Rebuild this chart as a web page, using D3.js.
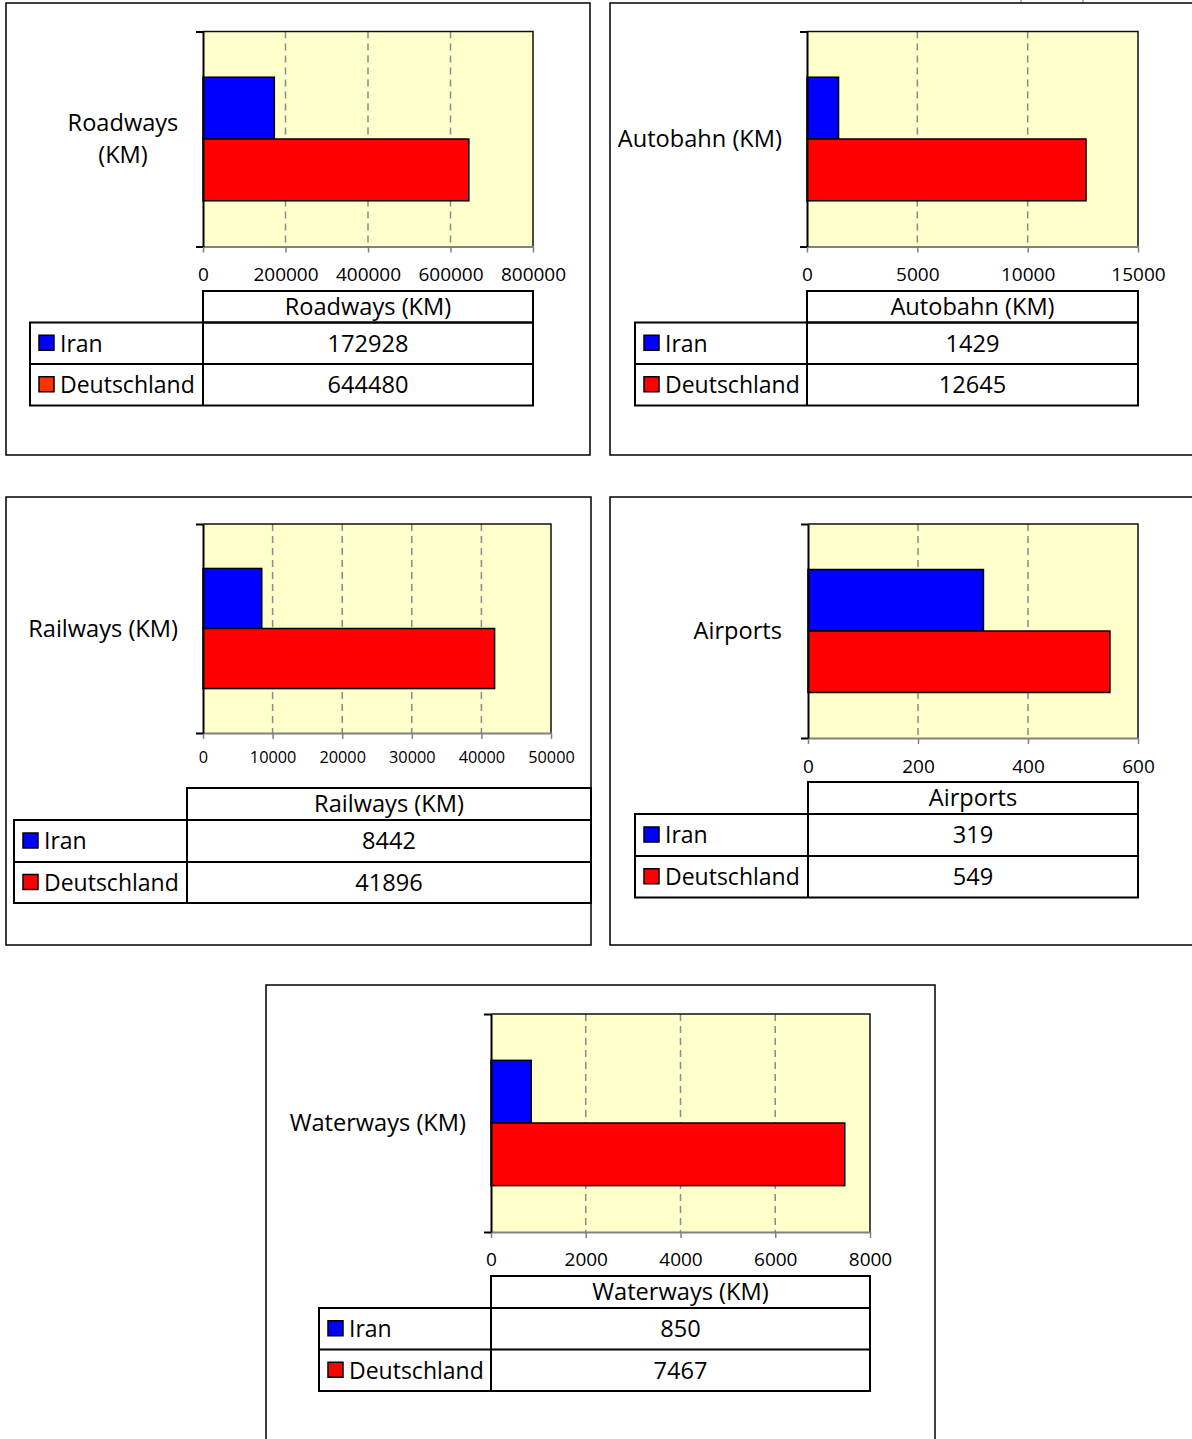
<!DOCTYPE html>
<html>
<head>
<meta charset="utf-8">
<script src="https://cdn.jsdelivr.net/npm/d3@7"></script>
<style>
  body { margin: 0; background: #fff; }
  svg { display: block; }
</style>
</head>
<body>
<svg id="chart" width="1192" height="1439"></svg>
<script>
// Transport infrastructure: Iran compared with Deutschland
const metrics = ["Roadways (KM)", "Autobahn (KM)", "Railways (KM)", "Airports", "Waterways (KM)"];
const countries = ["Iran", "Deutschland"];
const iranValues = [172928, 1429, 8442, 319, 850];
const deutschlandValues = [644480, 12645, 41896, 549, 7467];
const axisMaxima = [800000, 15000, 50000, 600, 8000];
const tickSteps = [200000, 5000, 10000, 200, 2000];

const FONT = "'Open Sans', 'Noto Sans', sans-serif";
const TEXT_SIZE = 23.6;
const LEGEND_SIZE = 23;
const barColors = { Iran: "#0000FF", Deutschland: "#FF0000" };

// Geometry of each small chart (frame, plot area, data table, labels)
const panels = [
  { frame: [6, 3, 590, 455], plot: [203, 31.5, 533, 246.5],
    table: { left: 30, valueLeft: 203, rows: [291, 322.5, 364, 405.5], right: 533 },
    tickY: 274, tickFont: 19,
    label: { x: 123, y: 139, anchor: "middle", lines: ["Roadways", "(KM)"] },
    keyColors: { Iran: "#0000FF", Deutschland: "#FF3300" } },
  { frame: [610, 3, 1198, 455], plot: [807, 31.5, 1138, 246.5],
    table: { left: 635, valueLeft: 807, rows: [291, 322.5, 364, 405.5], right: 1138 },
    tickY: 274, tickFont: 19,
    label: { x: 782, y: 139, anchor: "end" },
    keyColors: barColors },
  { frame: [6, 497, 591, 945], plot: [203, 524, 551, 733],
    table: { left: 14, valueLeft: 187, rows: [788, 820, 862, 903], right: 591 },
    tickY: 757, tickFont: 16.3,
    label: { x: 178, y: 628.5, anchor: "end" },
    keyColors: barColors },
  { frame: [610, 497, 1198, 945], plot: [808, 524, 1138, 738],
    table: { left: 635, valueLeft: 808, rows: [782, 814, 856, 897.5], right: 1138 },
    tickY: 766, tickFont: 19,
    label: { x: 782, y: 631, anchor: "end" },
    keyColors: barColors },
  { frame: [266, 985, 935, 1446], plot: [491, 1014, 870, 1232],
    table: { left: 319, valueLeft: 491, rows: [1276, 1308, 1349.5, 1391], right: 870 },
    tickY: 1259, tickFont: 19,
    label: { x: 466, y: 1123, anchor: "end" },
    keyColors: barColors }
];

const svg = d3.select("#chart");

// faint tick marks of a chart cut off above the top edge
svg.selectAll("line.cutoff").data([1021, 1083]).join("line")
  .attr("class", "cutoff")
  .attr("x1", d => d).attr("x2", d => d).attr("y1", 0).attr("y2", 2.5)
  .attr("stroke", "#999").attr("stroke-width", 1.5);

metrics.forEach((metric, i) => {
  const L = panels[i];
  const g = svg.append("g");
  const values = { Iran: iranValues[i], Deutschland: deutschlandValues[i] };

  // chart frame
  const [fx0, fy0, fx1, fy1] = L.frame;
  g.append("rect")
    .attr("x", fx0).attr("y", fy0)
    .attr("width", fx1 - fx0).attr("height", fy1 - fy0)
    .attr("fill", "none").attr("stroke", "#000").attr("stroke-width", 1.5);

  const [px0, py0, px1, py1] = L.plot;
  const x = d3.scaleLinear().domain([0, axisMaxima[i]]).range([px0, px1]);
  const ticks = d3.range(0, axisMaxima[i] + tickSteps[i] / 2, tickSteps[i]);
  const yCat = d3.scaleBand().domain([metric]).range([py0, py1])
    .paddingInner(0).paddingOuter(0.37);
  const ySeries = d3.scaleBand().domain(countries).range([0, yCat.bandwidth()]);

  // plot area background
  g.append("rect")
    .attr("x", px0).attr("y", py0)
    .attr("width", px1 - px0).attr("height", py1 - py0)
    .attr("fill", "#FFFFCC");

  // dashed vertical gridlines
  g.selectAll("line.grid").data(ticks.slice(1, -1)).join("line")
    .attr("class", "grid")
    .attr("x1", d => x(d)).attr("x2", d => x(d))
    .attr("y1", py0).attr("y2", py1)
    .attr("stroke", "#8a8a8a").attr("stroke-width", 1.5)
    .attr("stroke-dasharray", "7,5");

  // bars
  g.selectAll("rect.bar").data(countries).join("rect")
    .attr("class", "bar")
    .attr("x", x(0))
    .attr("y", d => yCat(metric) + ySeries(d))
    .attr("width", d => x(values[d]) - x(0))
    .attr("height", ySeries.bandwidth())
    .attr("fill", d => barColors[d])
    .attr("stroke", "#000").attr("stroke-width", 1.5);

  // plot area top and right border
  g.append("path")
    .attr("d", `M${px0},${py0}H${px1}V${py1}`)
    .attr("fill", "none").attr("stroke", "#111").attr("stroke-width", 1.5);

  // value axis
  const xAxis = d3.axisBottom(x).tickValues(ticks).tickSize(6).tickSizeOuter(0)
    .tickFormat(d3.format("d"));
  const ax = g.append("g").attr("transform", `translate(0,${py1})`).call(xAxis)
    .attr("font-family", FONT).attr("font-size", L.tickFont);
  ax.select(".domain").attr("stroke", "#808080").attr("stroke-width", 2);
  ax.selectAll(".tick line").attr("stroke", "#808080").attr("stroke-width", 1.5);
  ax.selectAll(".tick text")
    .attr("y", L.tickY - py1).attr("dy", "0.36em").attr("fill", "#000");

  // category axis
  const yAxis = d3.axisLeft(d3.scaleLinear().domain([0, 1]).range([py1, py0]))
    .tickValues([0, 1]).tickSize(7).tickSizeOuter(0).tickFormat("");
  const ay = g.append("g").attr("transform", `translate(${px0},0)`).call(yAxis);
  ay.select(".domain").attr("stroke", "#000").attr("stroke-width", 2);
  ay.selectAll(".tick line").attr("stroke", "#000").attr("stroke-width", 2);

  // category label
  const lines = L.label.lines || [metric];
  const lab = g.append("text")
    .attr("font-family", FONT).attr("font-size", TEXT_SIZE).attr("fill", "#000")
    .attr("text-anchor", L.label.anchor);
  lines.forEach((t, k) => {
    lab.append("tspan")
      .attr("x", L.label.x)
      .attr("y", L.label.y + (k - (lines.length - 1) / 2) * 32)
      .attr("dy", "0.36em")
      .text(t);
  });

  // data table
  const T = L.table;
  const [r0, r1, r2, r3] = T.rows;
  const tbl = g.append("g").attr("fill", "none").attr("stroke", "#000").attr("stroke-width", 2);
  tbl.append("rect").attr("x", T.valueLeft).attr("y", r0).attr("width", T.right - T.valueLeft).attr("height", r1 - r0);
  tbl.append("rect").attr("x", T.left).attr("y", r1).attr("width", T.right - T.left).attr("height", r3 - r1);
  tbl.append("line").attr("x1", T.left).attr("x2", T.right).attr("y1", r2).attr("y2", r2);
  tbl.append("line").attr("x1", T.valueLeft).attr("x2", T.valueLeft).attr("y1", r1).attr("y2", r3);

  const colMid = (T.valueLeft + T.right) / 2;
  g.append("text")
    .attr("x", colMid).attr("y", (r0 + r1) / 2).attr("dy", "0.36em")
    .attr("text-anchor", "middle")
    .attr("font-family", FONT).attr("font-size", TEXT_SIZE).attr("fill", "#000")
    .text(metric);

  const rowMids = [(r1 + r2) / 2, (r2 + r3) / 2];
  const rows = g.selectAll("g.row").data(countries).join("g").attr("class", "row");
  rows.append("rect")
    .attr("x", T.left + 9).attr("y", (d, k) => rowMids[k] - 8)
    .attr("width", 15).attr("height", 15)
    .attr("fill", d => L.keyColors[d])
    .attr("stroke", "#000").attr("stroke-width", 1.5);
  rows.append("text")
    .attr("x", T.left + 30).attr("y", (d, k) => rowMids[k]).attr("dy", "0.36em")
    .attr("font-family", FONT).attr("font-size", LEGEND_SIZE).attr("fill", "#000")
    .text(d => d);
  rows.append("text")
    .attr("x", colMid).attr("y", (d, k) => rowMids[k]).attr("dy", "0.36em")
    .attr("text-anchor", "middle")
    .attr("font-family", FONT).attr("font-size", TEXT_SIZE).attr("fill", "#000")
    .text(d => String(values[d]));
});
</script>
</body>
</html>
